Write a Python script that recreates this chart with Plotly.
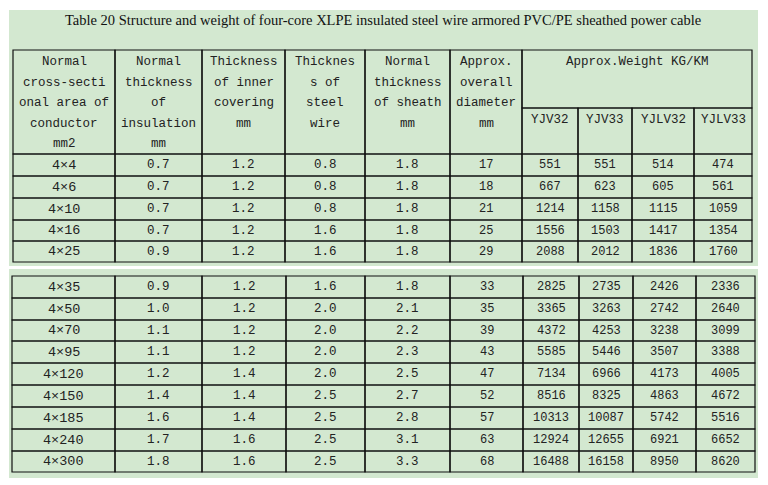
import plotly.graph_objects as go

title = "Table 20 Structure and weight of four-core XLPE insulated steel wire armored PVC/PE sheathed power cable"
headers = [["Normal", "cross-secti", "onal area of", "conductor", "mm2"],
           ["Normal", "thickness", "of", "insulation", "mm"],
           ["Thickness", "of inner", "covering", "mm"],
           ["Thicknes", "s of", "steel", "wire"],
           ["Normal", "thickness", "of sheath", "mm"],
           ["Approx.", "overall", "diameter", "mm"]]
weight_header = "Approx.Weight KG/KM"
models = ["YJV32", "YJV33", "YJLV32", "YJLV33"]

sizes = ["4×4", "4×6", "4×10", "4×16", "4×25", "4×35", "4×50", "4×70", "4×95",
         "4×120", "4×150", "4×185", "4×240", "4×300"]
insulation = ["0.7", "0.7", "0.7", "0.7", "0.9", "0.9", "1.0", "1.1", "1.1", "1.2", "1.4", "1.6", "1.7", "1.8"]
inner = ["1.2", "1.2", "1.2", "1.2", "1.2", "1.2", "1.2", "1.2", "1.2", "1.4", "1.4", "1.4", "1.6", "1.6"]
steel = ["0.8", "0.8", "0.8", "1.6", "1.6", "1.6", "2.0", "2.0", "2.0", "2.0", "2.5", "2.5", "2.5", "2.5"]
sheath = ["1.8", "1.8", "1.8", "1.8", "1.8", "1.8", "2.1", "2.2", "2.3", "2.5", "2.7", "2.8", "3.1", "3.3"]
diameter = [17, 18, 21, 25, 29, 33, 35, 39, 43, 47, 52, 57, 63, 68]
yjv32 = [551, 667, 1214, 1556, 2088, 2825, 3365, 4372, 5585, 7134, 8516, 10313, 12924, 16488]
yjv33 = [551, 623, 1158, 1503, 2012, 2735, 3263, 4253, 5446, 6966, 8325, 10087, 12655, 16158]
yjlv32 = [514, 605, 1115, 1417, 1836, 2426, 2742, 3238, 3507, 4173, 4863, 5742, 6921, 8950]
yjlv33 = [474, 561, 1059, 1354, 1760, 2336, 2640, 3099, 3388, 4005, 4672, 5516, 6652, 8620]

GREEN = "#d3e8d0"
FONT = "Liberation Mono"
shapes, ann = [], []

def rect(x0, y0, x1, y1, fill=None, line=True):
    shapes.append(dict(type="rect", xref="x", yref="y", x0=x0, y0=y0, x1=x1, y1=y1,
                       fillcolor=fill if fill else "rgba(0,0,0,0)",
                       line=dict(color="#111", width=1.2) if line else dict(width=0),
                       layer="below" if not line else "above"))

def text(x, y, t, size=12.5):
    ann.append(dict(x=x, y=y, xref="x", yref="y", text=t, showarrow=False,
                    font=dict(family=FONT, size=size, color="#222")))

rect(9, 10, 758, 266, GREEN, line=False)
rect(9, 269, 758, 478, GREEN, line=False)
ann.append(dict(x=383, y=20, xref="x", yref="y", text=title, showarrow=False,
                font=dict(family="Liberation Serif", size=14.5, color="#111")))

top_cols = [13, 115, 202, 285, 365, 450, 522, 578, 632, 694, 752]
bot_cols = [12, 115, 202, 286, 365, 450, 523, 579, 633, 696, 755]
top_rows = [154, 176, 198, 220, 241, 262]
bot_rows = [276, 298, 320, 341, 363, 385, 407, 429, 451, 472]

for i, h in enumerate(headers):
    rect(top_cols[i], 50, top_cols[i+1], 154)
    for k, line in enumerate(h):
        text((top_cols[i]+top_cols[i+1])/2, 62 + 20.5*k, line)
rect(top_cols[6], 50, top_cols[10], 108)
text((top_cols[6]+top_cols[10])/2, 62, weight_header)
for j, m in enumerate(models):
    rect(top_cols[6+j], 108, top_cols[7+j], 154)
    text((top_cols[6+j]+top_cols[7+j])/2, 120, m)

def rows(idx, cols, ys):
    for k, r in enumerate(idx):
        vals = [sizes[r], insulation[r], inner[r], steel[r], sheath[r], str(diameter[r]),
                str(yjv32[r]), str(yjv33[r]), str(yjlv32[r]), str(yjlv33[r])]
        y0, y1 = ys[k], ys[k+1]
        for c, v in enumerate(vals):
            rect(cols[c], y0, cols[c+1], y1)
            text((cols[c]+cols[c+1])/2, (y0+y1)/2, v, 13.5 if c == 0 else (12.5 if c < 5 else 12))

rows(range(0, 5), top_cols, top_rows)
rows(range(5, 14), bot_cols, bot_rows)

fig = go.Figure()
fig.update_layout(width=768, height=485, margin=dict(l=0, r=0, t=0, b=0),
                  paper_bgcolor="white", plot_bgcolor="white", shapes=shapes, annotations=ann,
                  xaxis=dict(range=[8, 776], visible=False, fixedrange=True),
                  yaxis=dict(range=[493, 8], visible=False, fixedrange=True),
                  showlegend=False)
fig.write_html("out.html")
